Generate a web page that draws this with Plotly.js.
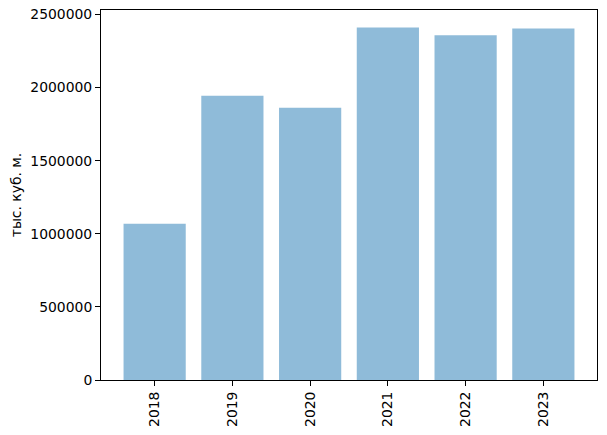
<!DOCTYPE html>
<html>
<head>
<meta charset="utf-8">
<script src="https://cdn.plot.ly/plotly-3.0.1.min.js"></script>
<style>html,body{margin:0;padding:0;background:#fff}</style>
</head>
<body>
<div id="chart" style="width:607px;height:435px"></div>
<script>
const years = ["2018", "2019", "2020", "2021", "2022", "2023"];
const volumes = [1068000, 1945000, 1863000, 2411000, 2358000, 2404000];
const yTickVals = [0, 500000, 1000000, 1500000, 2000000, 2500000];
const yTitle = "тыс. куб. м.";

const font = {family: "DejaVu Sans", size: 13.9, color: "#000"};
Plotly.newPlot("chart", [{
  type: "bar",
  x: years,
  y: volumes,
  marker: {color: "rgba(31,119,180,0.5)", line: {width: 0}},
  hoverinfo: "x+y"
}], {
  width: 607, height: 435,
  margin: {l: 101, r: 10, t: 10, b: 55, pad: 0},
  paper_bgcolor: "#fff", plot_bgcolor: "#fff",
  font: font,
  bargap: 0.2,
  showlegend: false,
  xaxis: {
    type: "category",
    range: [-0.69, 5.69],
    tickangle: -90,
    ticks: "outside", ticklen: 5, tickwidth: 1, tickcolor: "#000",
    showline: true, linecolor: "#000", linewidth: 1, mirror: true,
    showgrid: false, zeroline: false,
    tickfont: font, automargin: false
  },
  yaxis: {
    range: [0, 2530800],
    tickvals: yTickVals,
    tickformat: "d",
    ticks: "outside", ticklen: 5, tickwidth: 1, tickcolor: "#000",
    showline: true, linecolor: "#000", linewidth: 1, mirror: true,
    showgrid: false, zeroline: false,
    tickfont: font, automargin: false,
    title: {text: yTitle, font: font, standoff: 5}
  }
}, {displayModeBar: false, staticPlot: true});
</script>
</body>
</html>
